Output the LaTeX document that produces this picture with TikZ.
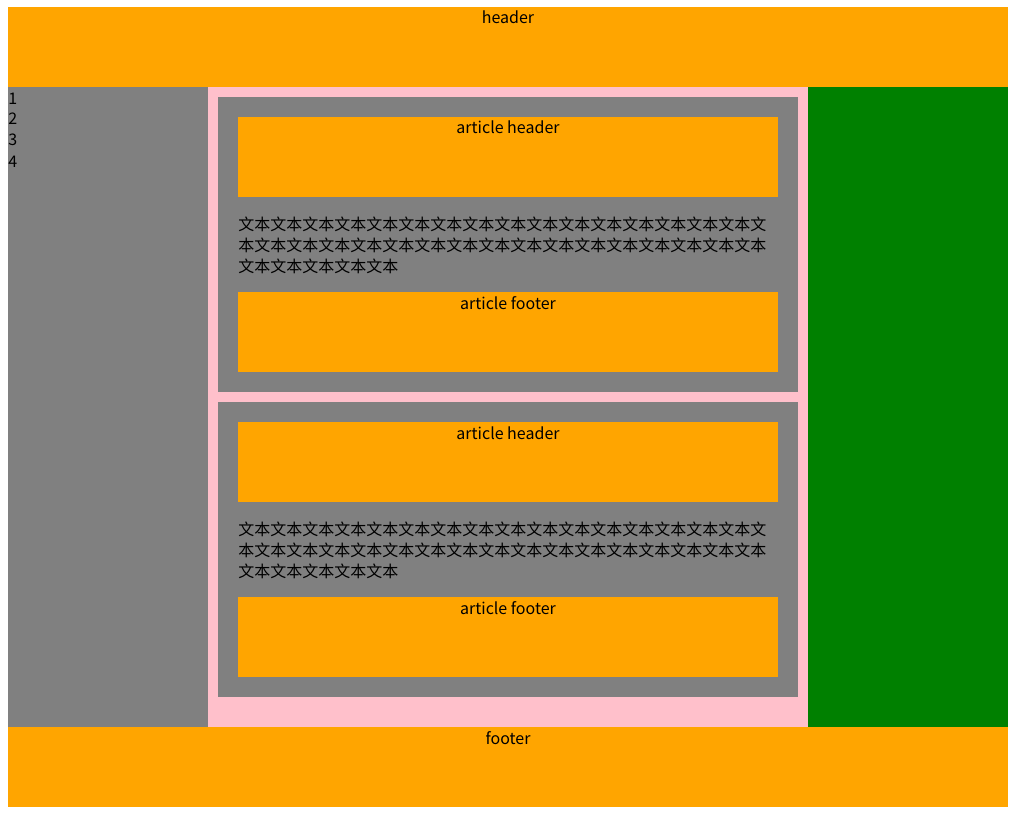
\documentclass[tikz,border=0pt]{standalone}
\usepackage{fontspec}
\setmainfont{Noto Sans CJK SC}
\definecolor{boxorange}{HTML}{FFA500}
\definecolor{boxgray}{HTML}{808080}
\definecolor{boxpink}{HTML}{FFC0CB}
\definecolor{boxgreen}{HTML}{008000}
\begin{document}
\begin{tikzpicture}[x=0.75pt,y=-0.75pt,
  txt/.style={inner sep=0pt, anchor=base, font=\fontsize{12}{15}\selectfont, text=black},
  txtl/.style={txt, anchor=base west},
  orangebox/.style={fill=boxorange},
  graybox/.style={fill=boxgray},
  pinkbox/.style={fill=boxpink},
  greenbox/.style={fill=boxgreen}]
\useasboundingbox (0,0) rectangle (1022,817);
\fill[white] (0,0) rectangle (1022,817);
% page header
\fill[orangebox] (8,7) rectangle (1008,87);
\node[txt] (hdr) at (508,24) {header};
% body columns
\fill[graybox] (8,87) rectangle (208,727);
\fill[pinkbox] (208,87) rectangle (808,727);
\fill[greenbox] (808,87) rectangle (1008,727);
\node[txtl] (n1) at (8,104) {1};
\node[txtl] (n2) at (8,125) {2};
\node[txtl] (n3) at (8,146) {3};
\node[txtl] (n4) at (8,167) {4};
% article 1
\fill[graybox] (218,97) rectangle (798,392);
\fill[orangebox] (238,117) rectangle (778,197);
\node[txt] (ah1) at (508,134) {article header};
\node[txtl] (a1l1) at (238,230) {文本文本文本文本文本文本文本文本文本文本文本文本文本文本文本文本文};
\node[txtl] (a1l2) at (238,251) {本文本文本文本文本文本文本文本文本文本文本文本文本文本文本文本文本};
\node[txtl] (a1l3) at (238,272) {文本文本文本文本文本};
\fill[orangebox] (238,292) rectangle (778,372);
\node[txt] (af1) at (508,309) {article footer};
% article 2
\fill[graybox] (218,402) rectangle (798,697);
\fill[orangebox] (238,422) rectangle (778,502);
\node[txt] (ah2) at (508,439) {article header};
\node[txtl] (a2l1) at (238,535) {文本文本文本文本文本文本文本文本文本文本文本文本文本文本文本文本文};
\node[txtl] (a2l2) at (238,556) {本文本文本文本文本文本文本文本文本文本文本文本文本文本文本文本文本};
\node[txtl] (a2l3) at (238,577) {文本文本文本文本文本};
\fill[orangebox] (238,597) rectangle (778,677);
\node[txt] (af2) at (508,614) {article footer};
% page footer
\fill[orangebox] (8,727) rectangle (1008,807);
\node[txt] (ftr) at (508,744) {footer};
\end{tikzpicture}
\end{document}
